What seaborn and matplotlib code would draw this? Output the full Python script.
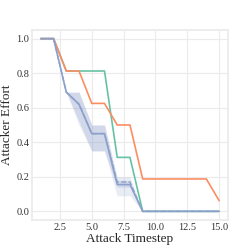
import matplotlib
matplotlib.use("Agg")
import matplotlib.pyplot as plt
import seaborn as sns
import pandas as pd

steps = list(range(1, 16))
green_vals = [1.0, 1.0, 0.8125, 0.8125, 0.8125, 0.8125, 0.3125, 0.3125, 0, 0, 0, 0, 0, 0, 0]
orange_vals = [1.0, 1.0, 0.8125, 0.8125, 0.625, 0.625, 0.5, 0.5, 0.1875, 0.1875, 0.1875, 0.1875, 0.1875, 0.1875, 0.0625]
blue_vals = [1.0, 1.0, 0.69, 0.62, 0.45, 0.45, 0.155, 0.155, 0, 0, 0, 0, 0, 0, 0]
blue_lo = [1.0, 1.0, 0.69, 0.52, 0.35, 0.35, 0.14, 0.14, 0, 0, 0, 0, 0, 0, 0]
blue_hi = [1.0, 1.0, 0.69, 0.69, 0.50, 0.50, 0.18, 0.18, 0, 0, 0, 0, 0, 0, 0]
blue2_vals = [1.0, 1.0, 0.69, 0.62, 0.45, 0.45, 0.17, 0.17, 0, 0, 0, 0, 0, 0, 0]
blue2_lo = [1.0, 1.0, 0.69, 0.50, 0.35, 0.35, 0.09, 0.09, 0, 0, 0, 0, 0, 0, 0]
blue2_hi = [1.0, 1.0, 0.69, 0.69, 0.50, 0.50, 0.20, 0.20, 0, 0, 0, 0, 0, 0, 0]

sns.set_theme(style="whitegrid")
plt.rcParams['font.family'] = ['Liberation Serif', 'DejaVu Serif']

pal = sns.color_palette("Set2")
c_green, c_orange, c_blue = pal[0], pal[1], pal[2]

fig, ax = plt.subplots(figsize=(2.4, 2.52), dpi=100)
fig.subplots_adjust(left=0.133, right=0.95, top=0.881, bottom=0.127)

df = pd.DataFrame({"step": steps, "green": green_vals, "orange": orange_vals,
                   "blue": blue_vals, "blue2": blue2_vals})

ax.fill_between(steps, blue2_lo, blue2_hi, color=c_blue, alpha=0.2, linewidth=0)
ax.fill_between(steps, blue_lo, blue_hi, color=c_blue, alpha=0.25, linewidth=0)
sns.lineplot(data=df, x="step", y="green", color=c_green, lw=1.2, ax=ax)
sns.lineplot(data=df, x="step", y="orange", color=c_orange, lw=1.2, ax=ax)
sns.lineplot(data=df, x="step", y="blue2", color=c_blue, lw=1.0, ls="--", ax=ax)
sns.lineplot(data=df, x="step", y="blue", color=c_blue, lw=1.2, ax=ax)

ax.set_xticks([2.5, 5.0, 7.5, 10.0, 12.5, 15.0])
ax.set_xticklabels(["2.5", "5.0", "7.5", "10.0", "12.5", "15.0"])
ax.set_yticks([0.0, 0.2, 0.4, 0.6, 0.8, 1.0])
ax.set_yticklabels(["0.0", "0.2", "0.4", "0.6", "0.8", "1.0"])
ax.tick_params(labelsize=7.5, pad=2, length=0, labelcolor="#333333")
ax.set_xlabel("Attack Timestep", fontsize=9.5, labelpad=1)
ax.set_ylabel("Attacker Effort", fontsize=9.5, labelpad=2)
ax.grid(color="#ebebeb", lw=0.8)
for s in ax.spines.values():
    s.set_color("#ebebeb")

fig.savefig("out.png", dpi=100)
